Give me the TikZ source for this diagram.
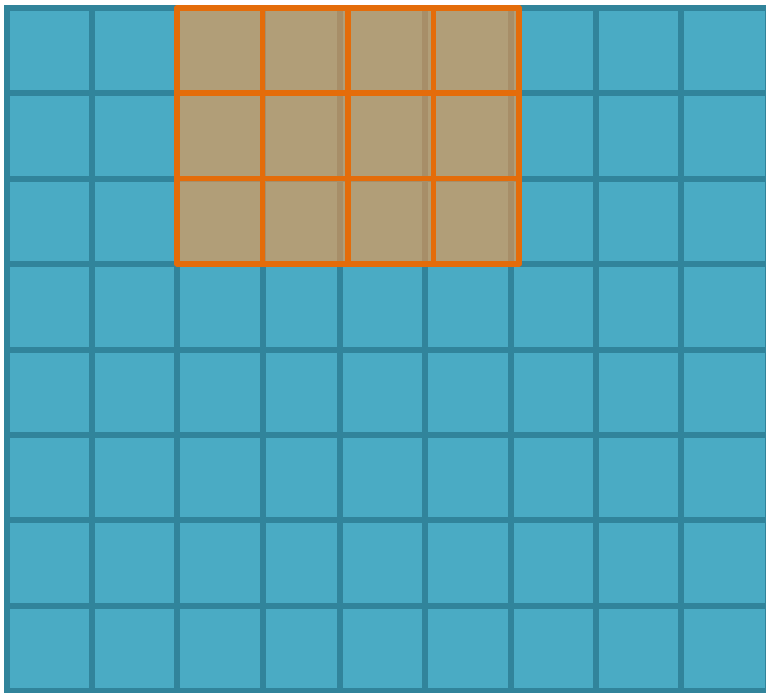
\documentclass[tikz,border=0pt]{standalone}
\definecolor{cellblue}{HTML}{4AABC4}
\definecolor{lineblue}{HTML}{31849B}
\definecolor{patchfill}{HTML}{F79646}
\definecolor{patchline}{HTML}{E46C0A}
\begin{document}
\begin{tikzpicture}[x=0.5pt,y=0.5pt,gridline/.style={draw=lineblue,line width=3pt,line cap=rect},patchline/.style={draw=patchline,line width=2.8pt,line cap=round}]
\useasboundingbox(0,0)rectangle(766,692);
\fill[cellblue](7,1)rectangle(768,684);
\foreach \x in {7,92,177,263,340,425,510.5,596,681,768}\draw[gridline](\x,1)--(\x,684);
\foreach \i in {0,...,8}\draw[gridline](7,684-85.375*\i)--(768,684-85.375*\i);
\fill[patchfill,opacity=0.6](177,428.25)rectangle(519,684);
\foreach \i in {0,...,4}\draw[patchline](177+85.5*\i,428.25)--(177+85.5*\i,684);
\foreach \i in {0,...,3}\draw[patchline](177,684-85.25*\i)--(519,684-85.25*\i);
\end{tikzpicture}
\end{document}
